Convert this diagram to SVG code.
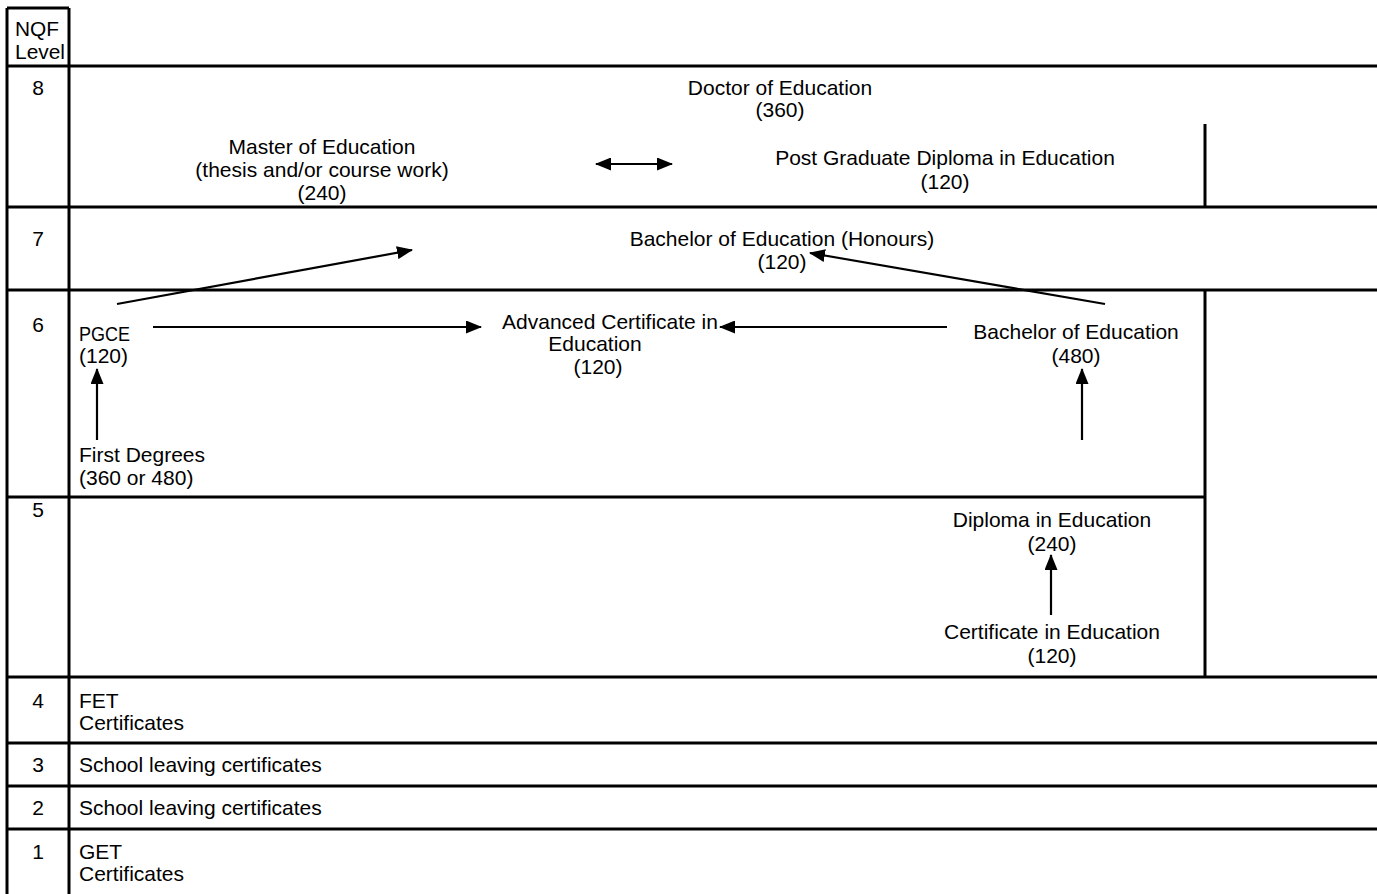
<svg xmlns="http://www.w3.org/2000/svg" width="1377" height="894" viewBox="0 0 1377 894">
<style>
  text { font-family: "Liberation Sans", Arial, sans-serif; font-size: 21px; fill: #000; }
  .c { text-anchor: middle; }
  .grid { stroke: #000; stroke-width: 3; fill: none; }
  .arr { stroke: #000; stroke-width: 2.2; fill: none; }
</style>
<defs>
  <marker id="ah" viewBox="0 0 16 13" refX="15" refY="6.5" markerWidth="16" markerHeight="13" markerUnits="userSpaceOnUse" orient="auto-start-reverse">
    <path d="M0,0 L16,6.5 L0,13 z" fill="#000"/>
  </marker>
</defs>
<rect width="1377" height="894" fill="#fff"/>
<g id="table" class="grid">
  <path d="M7,8 H69"/>
  <path d="M7,8 V894"/>
  <path d="M69,8 V894"/>
  <path d="M7,66 H1377"/>
  <path d="M7,207 H1377"/>
  <path d="M7,290 H1377"/>
  <path d="M7,497 H1205"/>
  <path d="M7,677 H1377"/>
  <path d="M7,743 H1377"/>
  <path d="M7,786 H1377"/>
  <path d="M7,829 H1377"/>
  <path d="M1205,124 V207"/>
  <path d="M1205,290 V677"/>
</g>
<g id="levels">
  <text x="15" y="36" textLength="44" lengthAdjust="spacingAndGlyphs">NQF</text>
  <text x="15" y="59" textLength="50" lengthAdjust="spacingAndGlyphs">Level</text>
  <text class="c" x="38" y="95">8</text>
  <text class="c" x="38" y="246">7</text>
  <text class="c" x="38" y="332">6</text>
  <text class="c" x="38" y="517">5</text>
  <text class="c" x="38" y="708">4</text>
  <text class="c" x="38" y="772">3</text>
  <text class="c" x="38" y="815">2</text>
  <text class="c" x="38" y="859">1</text>
</g>
<g id="doctor"><text class="c" x="780" y="95">Doctor of Education</text><text class="c" x="780" y="117">(360)</text></g>
<g id="master"><text class="c" x="322" y="154">Master of Education</text><text class="c" x="322" y="177">(thesis and/or course work)</text><text class="c" x="322" y="200">(240)</text></g>
<g id="pgde"><text class="c" x="945" y="165">Post Graduate Diploma in Education</text><text class="c" x="945" y="189">(120)</text></g>
<g id="bedhons"><text class="c" x="782" y="246">Bachelor of Education (Honours)</text><text class="c" x="782" y="269">(120)</text></g>
<g id="pgce"><text x="79" y="341" textLength="51" lengthAdjust="spacingAndGlyphs">PGCE</text><text x="79" y="363">(120)</text></g>
<g id="ace"><text class="c" x="610" y="329">Advanced Certificate in</text><text class="c" x="595" y="351">Education</text><text class="c" x="598" y="374">(120)</text></g>
<g id="bed"><text class="c" x="1076" y="339">Bachelor of Education</text><text class="c" x="1076" y="363">(480)</text></g>
<g id="first"><text x="79" y="462">First Degrees</text><text x="79" y="485">(360 or 480)</text></g>
<g id="dip"><text class="c" x="1052" y="527">Diploma in Education</text><text class="c" x="1052" y="551">(240)</text></g>
<g id="cert"><text class="c" x="1052" y="639">Certificate in Education</text><text class="c" x="1052" y="663">(120)</text></g>
<g id="fet"><text x="79" y="708">FET</text><text x="79" y="730">Certificates</text></g>
<g id="slc3"><text x="79" y="772">School leaving certificates</text></g>
<g id="slc2"><text x="79" y="815">School leaving certificates</text></g>
<g id="get"><text x="79" y="859">GET</text><text x="79" y="881">Certificates</text></g>
<g id="connectors" class="arr">
  <path d="M596,164 H672" marker-start="url(#ah)" marker-end="url(#ah)"/>
  <path d="M117,304 L412,250" marker-end="url(#ah)"/>
  <path d="M1105,304 L810,253" marker-end="url(#ah)"/>
  <path d="M153,327 H481" marker-end="url(#ah)"/>
  <path d="M947,327 H720" marker-end="url(#ah)"/>
  <path d="M97,440 V369" marker-end="url(#ah)"/>
  <path d="M1082,440 V369" marker-end="url(#ah)"/>
  <path d="M1051,615 V555" marker-end="url(#ah)"/>
</g>
</svg>
